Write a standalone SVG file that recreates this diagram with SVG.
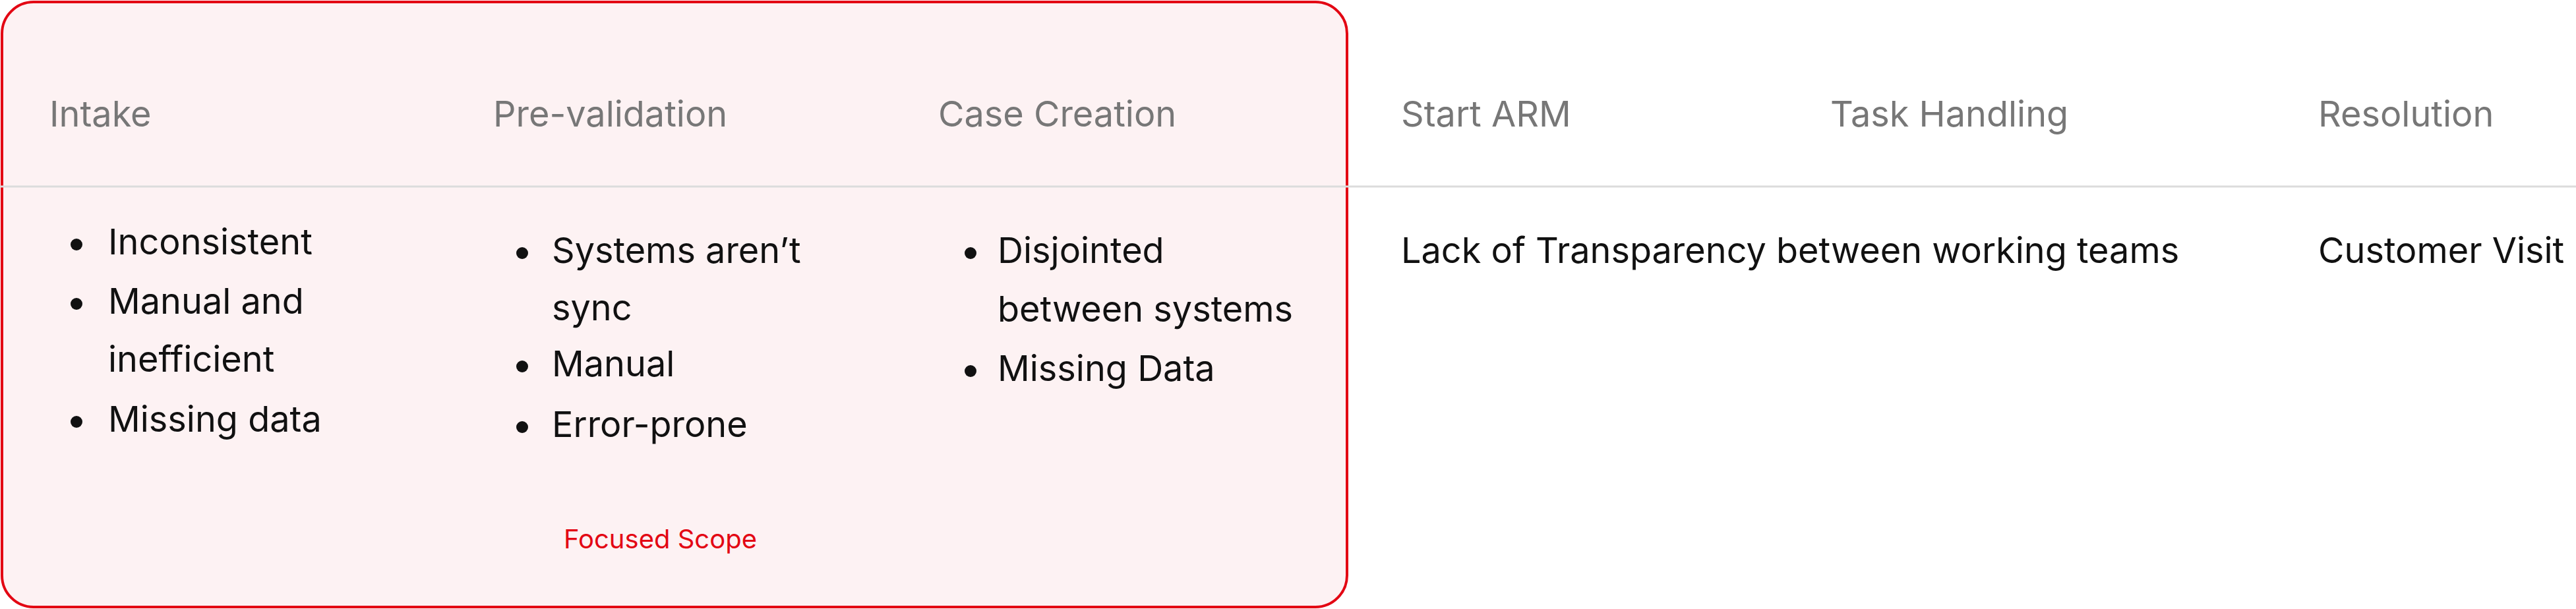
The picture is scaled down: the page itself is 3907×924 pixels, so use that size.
<svg xmlns="http://www.w3.org/2000/svg" width="3907" height="924" viewBox="0 0 3907 924">
<style>
text{font-family:Inter,"Liberation Sans",sans-serif}
.h{font-size:54px;fill:#777}
.b{font-size:54px;fill:#111}
.s{font-size:40px;fill:#e30613}
</style>
<rect width="3907" height="924" fill="#fff"/>
<g id="scope">
<rect x="3" y="3" width="2040" height="918" rx="48" fill="#fdf2f3" stroke="#e30613" stroke-width="4"/>
<text class="s" x="855" y="832">Focused Scope</text>
</g>
<g id="connectors"><line x1="0" y1="283" x2="3907" y2="283" stroke="#dcdcdc" stroke-width="3"/></g>
<g id="intake">
<text class="h" x="75" y="192">Intake</text>
<circle cx="116" cy="371" r="9" fill="#111"/><text class="b" x="164" y="386">Inconsistent</text>
<circle cx="116" cy="461" r="9" fill="#111"/><text class="b" x="164" y="476">Manual and</text>
<text class="b" x="164" y="564">inefficient</text>
<circle cx="116" cy="640" r="9" fill="#111"/><text class="b" x="164" y="655">Missing data</text>
</g>
<g id="prevalidation">
<text class="h" x="748" y="192">Pre-validation</text>
<circle cx="792" cy="384" r="9" fill="#111"/><text class="b" x="837" y="399">Systems aren’t</text>
<text class="b" x="837" y="486">sync</text>
<circle cx="792" cy="556" r="9" fill="#111"/><text class="b" x="837" y="571">Manual</text>
<circle cx="792" cy="648" r="9" fill="#111"/><text class="b" x="837" y="663">Error-prone</text>
</g>
<g id="casecreation">
<text class="h" x="1423" y="192">Case Creation</text>
<circle cx="1472" cy="384" r="9" fill="#111"/><text class="b" x="1513" y="399">Disjointed</text>
<text class="b" x="1513" y="488">between systems</text>
<circle cx="1472" cy="563" r="9" fill="#111"/><text class="b" x="1513" y="578">Missing Data</text>
</g>
<g id="startarm">
<text class="h" x="2125" y="192">Start ARM</text>
<text class="b" x="2125" y="399">Lack of Transparency between working teams</text>
</g>
<g id="taskhandling"><text class="h" x="2776" y="192">Task Handling</text></g>
<g id="resolution">
<text class="h" x="3516" y="192">Resolution</text>
<text class="b" x="3516" y="399">Customer Visit</text>
</g>
</svg>
